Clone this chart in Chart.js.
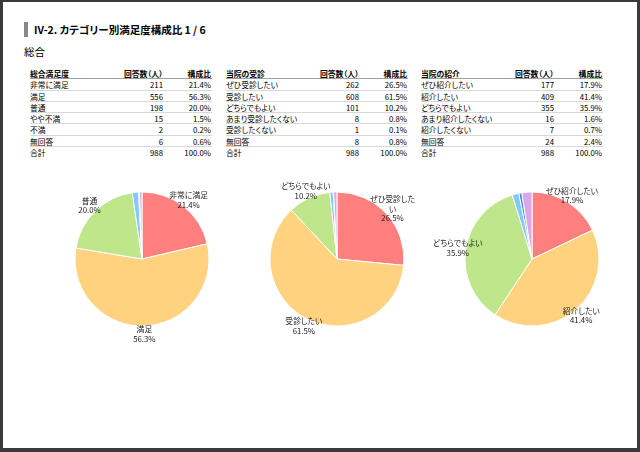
<!DOCTYPE html>
<html><head><meta charset="utf-8">
<script src="https://cdn.jsdelivr.net/npm/chart.js@4.4.0/dist/chart.umd.min.js"></script>
<style>
html,body{margin:0;padding:0;}
body{width:640px;height:452px;background:#3a3a3a;position:relative;overflow:hidden;font-family:"Noto Sans CJK JP",sans-serif;font-feature-settings:"palt";color:#000;}
#page{position:absolute;left:3px;top:2px;width:634px;height:446px;background:#fff;}
#bar{position:absolute;left:24px;top:22px;width:4px;height:15px;background:#888;}
#title{position:absolute;left:34px;top:22px;line-height:15px;font-size:10.5px;font-weight:bold;white-space:nowrap;}
#sub{position:absolute;left:24px;top:45px;line-height:14px;font-size:10.5px;white-space:nowrap;}
.tbl{position:absolute;top:68px;width:182px;font-size:7.8px;}
.row{display:flex;height:11.3px;line-height:11.3px;border-bottom:1px solid #d8d8d8;box-sizing:border-box;white-space:nowrap;}
.row.hd{font-weight:bold;border-bottom:1px solid #a0a0a0;}
.row.last{border-bottom:none;}
.c1{width:88px;}
.c2{width:45px;text-align:right;}
.c3{width:48px;text-align:right;}
canvas{position:absolute;top:159px;}
</style>
</head><body>
<div id="page"></div>
<div id="bar"></div>
<div id="title">IV-2. カテゴリー別満足度構成比 1 / 6</div>
<div id="sub">総合</div>
<div class="tbl" id="t0" style="left:30px"></div>
<div class="tbl" id="t1" style="left:226px"></div>
<div class="tbl" id="t2" style="left:421px"></div>
<canvas id="p0" width="196" height="200" style="left:44px"></canvas>
<canvas id="p1" width="196" height="200" style="left:239px"></canvas>
<canvas id="p2" width="196" height="200" style="left:434px"></canvas>
<script>
// ---- data ----
const headers1 = ["総合満足度", "回答数（人）", "構成比"];
const categories1 = ["非常に満足", "満足", "普通", "やや不満", "不満", "無回答"];
const counts1 = [211, 556, 198, 15, 2, 6];

const headers2 = ["当院の受診", "回答数（人）", "構成比"];
const categories2 = ["ぜひ受診したい", "受診したい", "どちらでもよい", "あまり受診したくない", "受診したくない", "無回答"];
const counts2 = [262, 608, 101, 8, 1, 8];
const pieLabels2 = ["ぜひ受診した\nい", "受診したい", "どちらでもよい", "あまり受診したくない", "受診したくない", "無回答"];

const headers3 = ["当院の紹介", "回答数（人）", "構成比"];
const categories3 = ["ぜひ紹介したい", "紹介したい", "どちらでもよい", "あまり紹介したくない", "紹介したくない", "無回答"];
const counts3 = [177, 409, 355, 16, 7, 24];

const totalLabel = "合計";
const colors = ["#FF7F7F", "#FFD27F", "#BFE68A", "#7FCBFF", "#4F86EE", "#D9A8E8"];

function pct(v, tot) { return (v / tot * 100).toFixed(1) + "%"; }

function buildTable(id, headers, cats, counts) {
  const tot = counts.reduce((a, b) => a + b, 0);
  const el = document.getElementById(id);
  let h = '<div class="row hd"><div class="c1">' + headers[0] + '</div><div class="c2">' + headers[1] + '</div><div class="c3">' + headers[2] + '</div></div>';
  cats.forEach((c, i) => {
    h += '<div class="row"><div class="c1">' + c + '</div><div class="c2">' + counts[i] + '</div><div class="c3">' + pct(counts[i], tot) + '</div></div>';
  });
  h += '<div class="row last"><div class="c1">' + totalLabel + '</div><div class="c2">' + tot + '</div><div class="c3">100.0%</div></div>';
  el.innerHTML = h;
}
buildTable("t0", headers1, categories1, counts1);
buildTable("t1", headers2, categories2, counts2);
buildTable("t2", headers3, categories3, counts3);

const labelPlugin = {
  id: "sliceLabels",
  afterDatasetsDraw(chart) {
    const ctx = chart.ctx;
    const ds = chart.data.datasets[0];
    const tot = ds.data.reduce((a, b) => a + b, 0);
    const meta = chart.getDatasetMeta(0);
    const disp = chart.options.plugins.sliceLabels.labels;
    ctx.save();
    ctx.font = '7.8px "Noto Sans CJK JP", sans-serif';
    ctx.fillStyle = "#222";
    ctx.textAlign = "center";
    ctx.textBaseline = "middle";
    meta.data.forEach((arc, i) => {
      const v = ds.data[i];
      if (v / tot < 0.05) return;
      const p = arc.getProps(["x", "y", "startAngle", "endAngle", "outerRadius"], true);
      const a = (p.startAngle + p.endAngle) / 2;
      const r = p.outerRadius + 8;
      const x = p.x + Math.cos(a) * r;
      const y = p.y + Math.sin(a) * r;
      const lines = disp[i].split("\n").concat([pct(v, tot)]);
      const lh = 9.6;
      const y0 = y - (lines.length - 1) * lh / 2;
      lines.forEach((t, k) => ctx.fillText(t, x, y0 + k * lh));
    });
    ctx.restore();
  }
};

function makePie(id, cats, counts, disp) {
  new Chart(document.getElementById(id), {
    type: "pie",
    data: { labels: cats, datasets: [{ data: counts, backgroundColor: colors, borderColor: "#ffffff", borderWidth: 1 }] },
    options: {
      responsive: false, animation: false, radius: 67,
      layout: { padding: 0 },
      plugins: { legend: { display: false }, tooltip: { enabled: false }, sliceLabels: { labels: disp } }
    },
    plugins: [labelPlugin]
  });
}
makePie("p0", categories1, counts1, categories1);
makePie("p1", categories2, counts2, pieLabels2);
makePie("p2", categories3, counts3, categories3);
</script>
</body></html>
